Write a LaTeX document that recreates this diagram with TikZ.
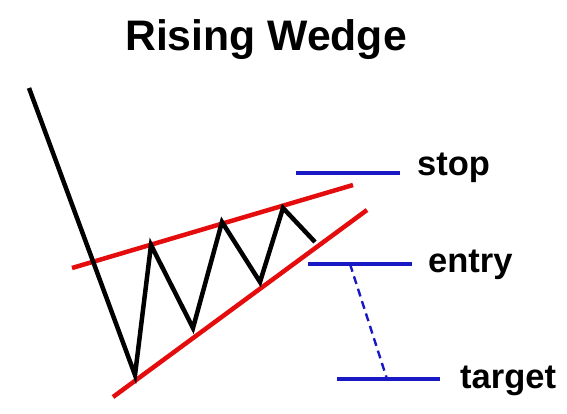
\documentclass[tikz,border=0pt]{standalone}
\usepackage{fontspec}
\setmainfont{Liberation Sans}
\definecolor{wred}{RGB}{228,12,12}
\definecolor{wblue}{RGB}{24,24,196}
\begin{document}
\begin{tikzpicture}[x=1pt,y=-1pt,
  price/.style={line width=4.5pt,line join=miter,black},
  trend/.style={line width=4.5pt,wred},
  level/.style={line width=3.2pt,wblue},
  move/.style={line width=2.4pt,wblue,dash pattern=on 8pt off 5pt},
  lbl/.style={font=\fontsize{34.5}{36}\selectfont\bfseries,inner sep=0pt,anchor=base west},
  ttl/.style={font=\fontsize{42.7}{46}\selectfont\bfseries,inner sep=0pt,anchor=base}]
\useasboundingbox (0,0) rectangle (567,413);
\fill[white] (0,0) rectangle (567,413);
\node[ttl] (title) at (266,50) {Rising Wedge};
% price path points
\coordinate (p0) at (29,88);
\coordinate (p1) at (135,375);
\coordinate (p2) at (151,245);
\coordinate (p3) at (193,328);
\coordinate (p4) at (222,222);
\coordinate (p5) at (260,282);
\coordinate (p6) at (283,208);
\coordinate (p7) at (315,242);
% trend lines
\coordinate (u0) at (72,268);
\coordinate (u1) at (353,185);
\coordinate (l0) at (113,397);
\coordinate (l1) at (367,210);
\draw[trend] (u0) -- (u1);
\draw[trend] (l0) -- (l1);
\draw[price] (p0) -- (p1) -- (p2) -- (p3) -- (p4) -- (p5) -- (p6) -- (p7);
% levels
\coordinate (s0) at (296,173);
\coordinate (s1) at (400,173);
\coordinate (e0) at (308,264);
\coordinate (e1) at (412,264);
\coordinate (t0) at (337,379);
\coordinate (t1) at (440,379);
\coordinate (d0) at (350,264);
\coordinate (d1) at (387,379);
\draw[level] (s0) -- (s1);
\draw[level] (e0) -- (e1);
\draw[level] (t0) -- (t1);
\draw[move] (d0) -- (d1);
\node[lbl] (stop) at (417,175) {stop};
\node[lbl] (entry) at (428,272) {entry};
\node[lbl] (target) at (460,388) {target};
\end{tikzpicture}
\end{document}
